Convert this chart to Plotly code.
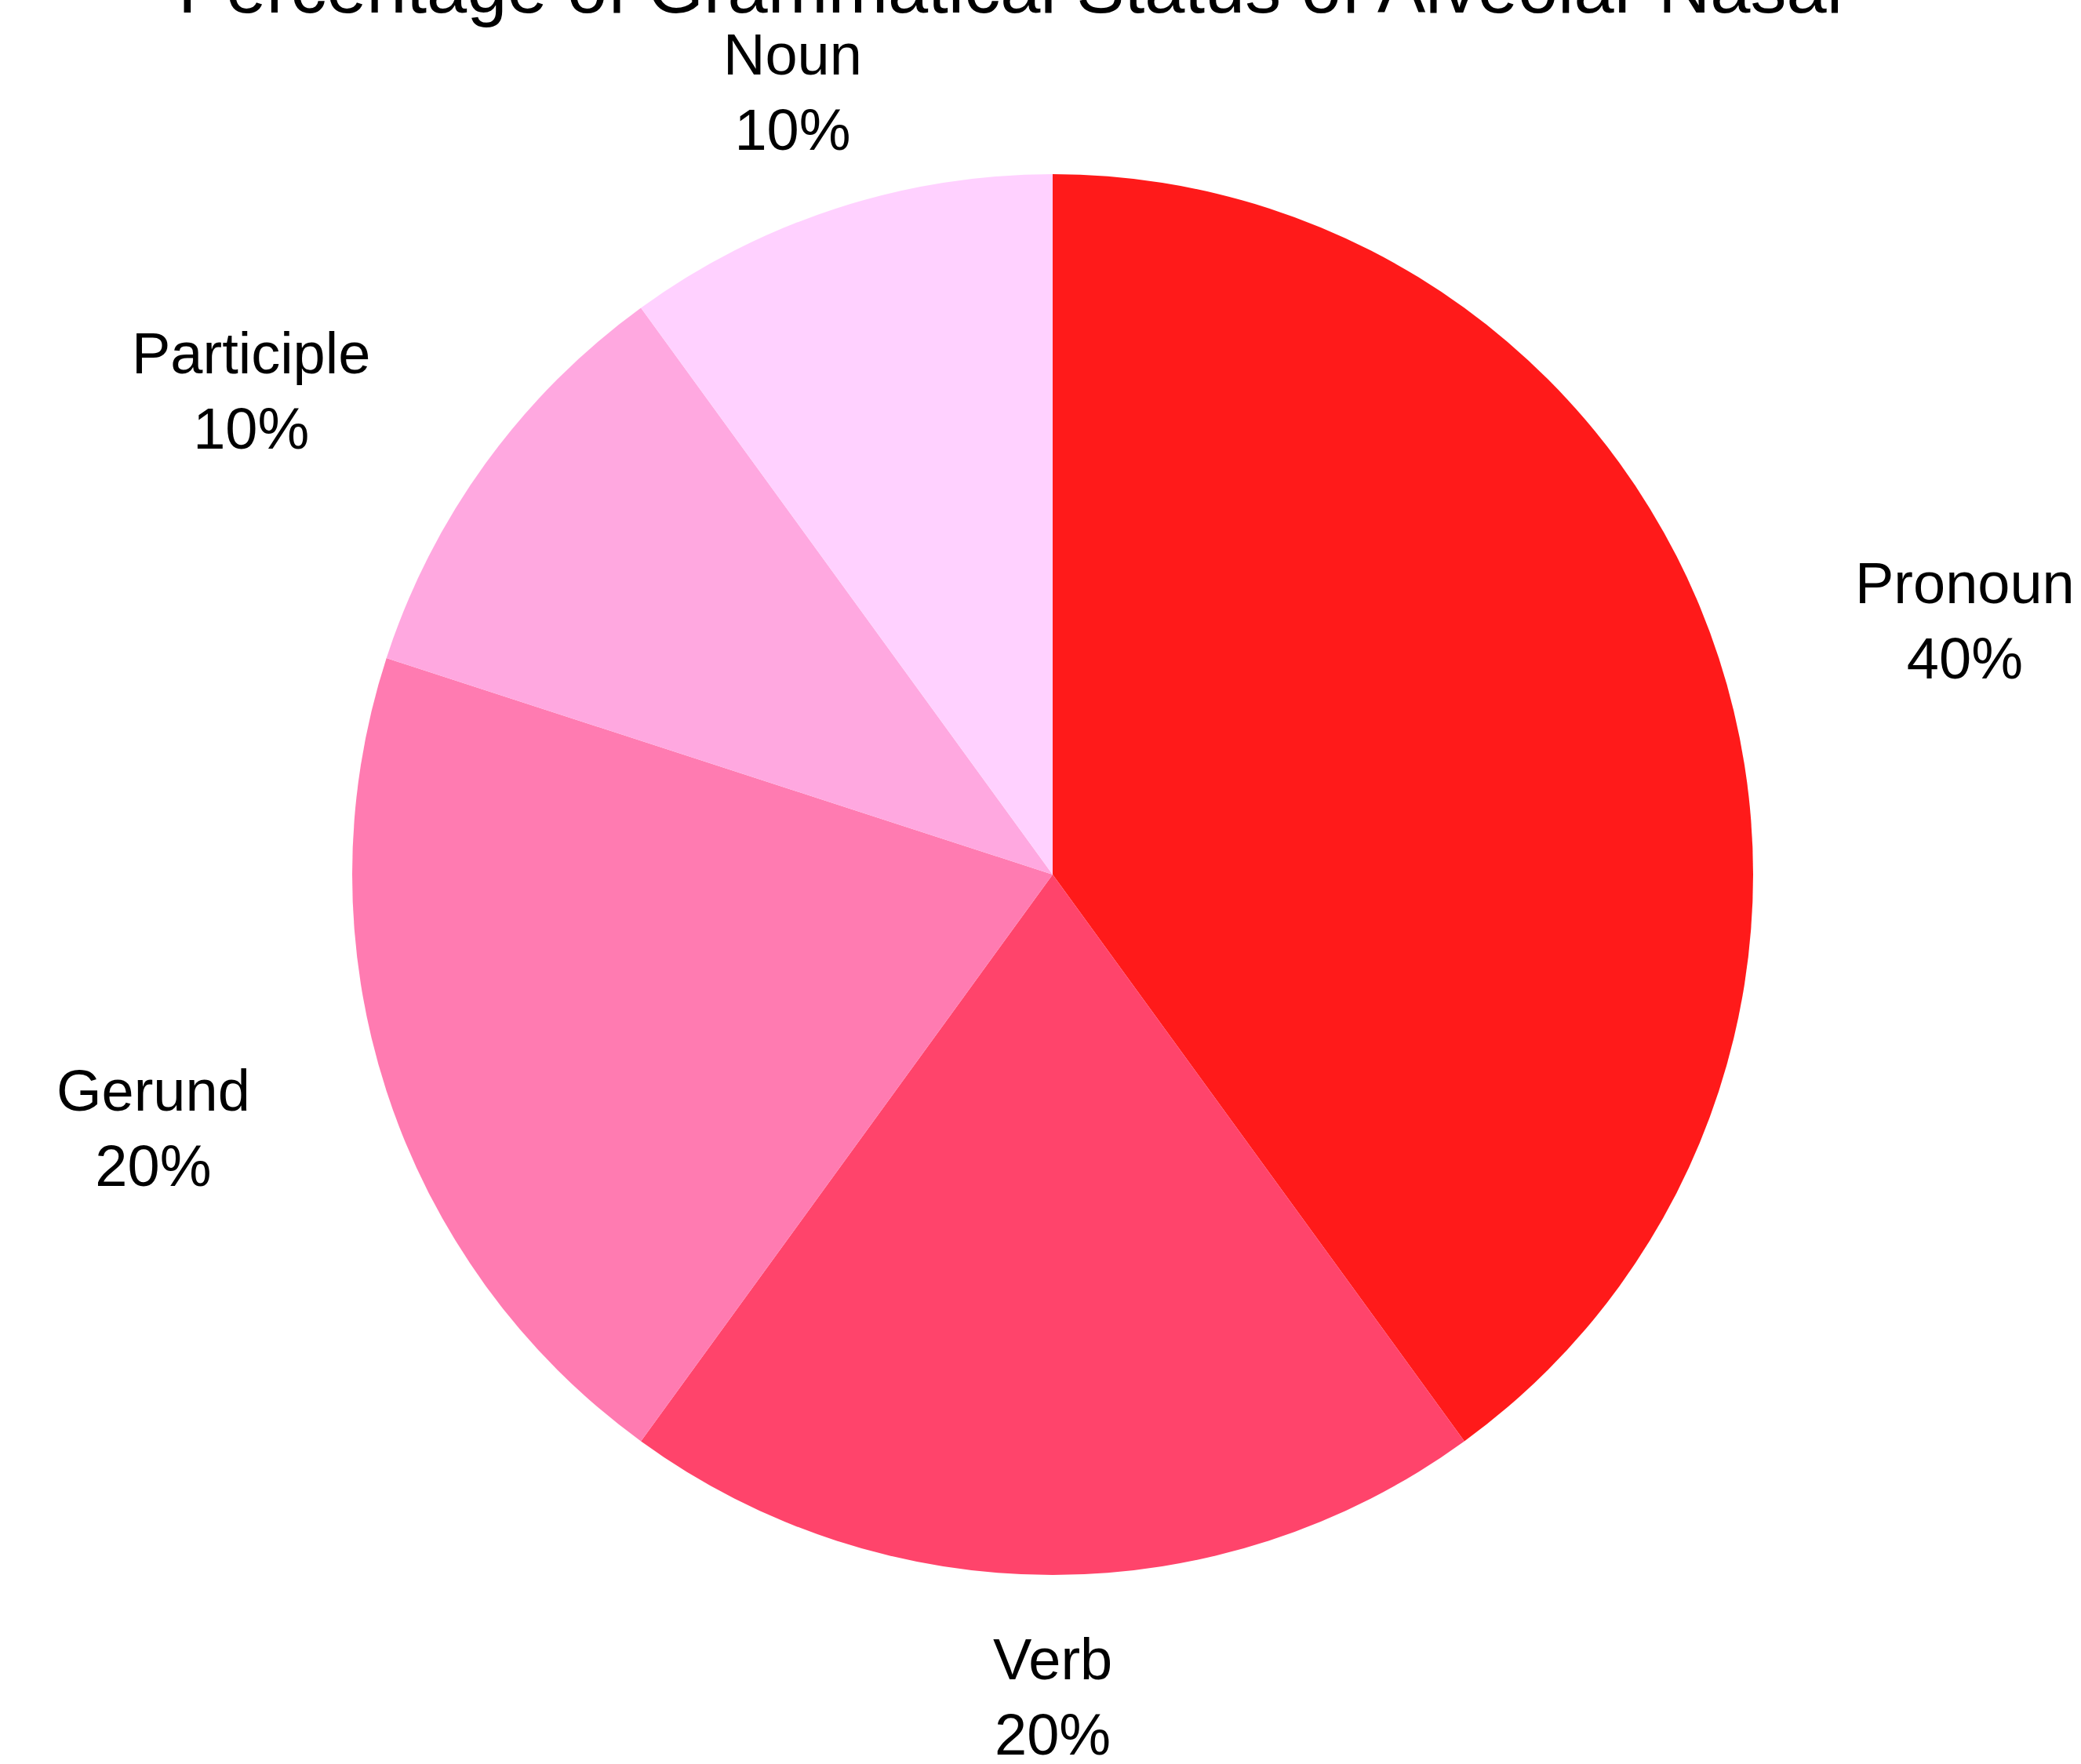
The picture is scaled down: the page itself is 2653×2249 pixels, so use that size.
import math
import plotly.graph_objects as go

# Grammatical status shares for the alveolar nasal
categories = ["Pronoun", "Verb", "Gerund", "Participle", "Noun"]
shares = [40, 20, 20, 10, 10]
slice_colors = ["#FF1A1A", "#FF446B", "#FF7BB1", "#FFA8E0", "#FFD1FF"]

title_text = "Percentage of Grammatical Status of Alveolar Nasal"
font_family = "Liberation Sans, Arial, sans-serif"

fig = go.Figure(
    go.Pie(
        labels=categories,
        values=shares,
        sort=False,
        direction="clockwise",
        rotation=0,
        marker=dict(colors=slice_colors, line=dict(width=0)),
        textinfo="none",
        showlegend=False,
        hoverinfo="label+percent",
        domain=dict(x=[0, 1], y=[0, 1]),
    )
)

# Outside labels: anchored just beyond the rim at each slice's mid-angle,
# left/right aligned on the sides and centred near the top and bottom
label_rx = 0.601  # horizontal anchor radius (paper units, pie radius = 0.5)
label_ry = 0.587  # vertical anchor radius
total = sum(shares)
start = 0.0
for name, value in zip(categories, shares):
    frac = value / total
    mid = (start + frac / 2) * 2 * math.pi  # clockwise from 12 o'clock
    start += frac
    s, c = math.sin(mid), math.cos(mid)
    anchor = "left" if s > 0.5 else ("right" if s < -0.5 else "center")
    fig.add_annotation(
        text=f"{name}<br>{frac * 100:.0f}%",
        font=dict(family=font_family, size=74, color="#000000"),
        xref="paper",
        yref="paper",
        x=0.5 + label_rx * s,
        y=0.5 + label_ry * c,
        xanchor=anchor,
        yanchor="middle",
        align="center",
        showarrow=False,
    )

# Title sits above the top edge of the page, partly clipped
fig.add_annotation(
    text=title_text,
    font=dict(family=font_family, size=92, color="#000000"),
    xref="paper",
    yref="paper",
    x=0.47,
    y=1.133,
    xanchor="center",
    yanchor="middle",
    showarrow=False,
)

fig.update_layout(
    width=2653,
    height=2249,
    paper_bgcolor="white",
    plot_bgcolor="white",
    margin=dict(l=449, r=418, t=222, b=241, autoexpand=False),
)

fig.write_html("out.html")
